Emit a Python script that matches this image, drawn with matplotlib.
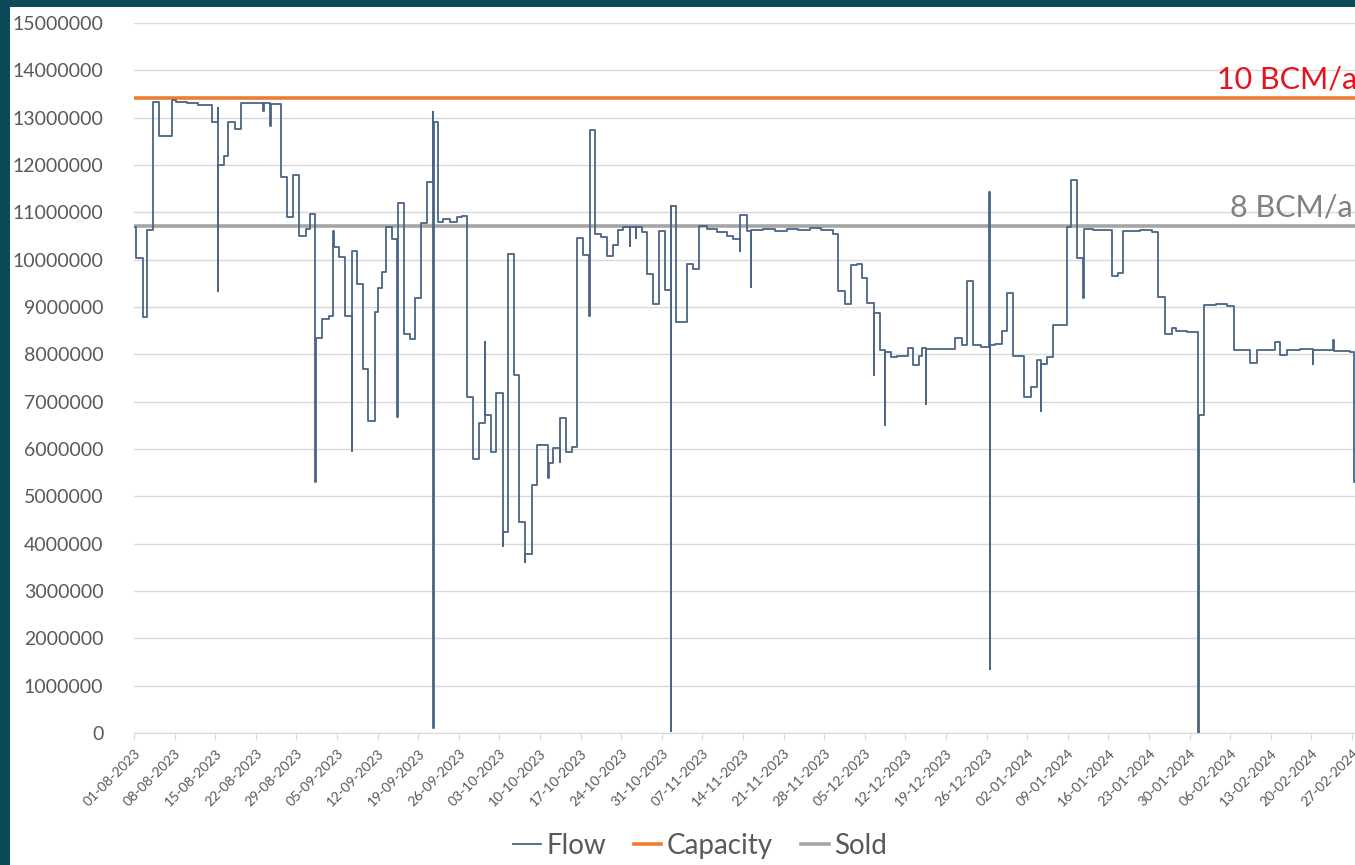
import numpy as np
import matplotlib
matplotlib.use("Agg")
import matplotlib.pyplot as plt
import matplotlib.dates as mdates
from matplotlib.patches import Rectangle
from matplotlib.lines import Line2D
import datetime as dt

plt.rcParams['font.family'] = ['Lato', 'DejaVu Sans']

# flow: days since 01-08-2023 where the value changes, and the new value (million units)
flow_day = [0.0, 0.34, 1.49, 2.30, 3.22, 4.37, 6.49, 7.2, 9.2, 11.0, 13.39,
            14.42, 14.46, 14.5, 15.52, 16.26, 17.47, 18.45, 22.3, 22.35, 23.45, 23.55,
            25.29, 26.32, 27.47, 28.51, 29.66, 30.34, 31.26, 31.3, 32.47, 33.68,
            34.25, 34.45, 35.4, 36.38, 37.5, 37.55, 38.51, 39.43, 40.4, 41.55,
            42.1, 42.7, 43.45, 44.43, 45.4, 45.45, 46.55, 47.59, 48.45, 49.43,
            50.46, 51.55, 51.6, 51.65, 52.36, 53.33, 54.48, 55.63, 56.49, 57.36,
            58.5, 59.54, 60.5, 60.55, 61.49, 62.41, 63.56, 63.6, 64.54, 65.52,
            66.44, 67.41, 67.45, 68.56, 69.54, 71.44, 71.5, 72.3, 73.45, 73.5,
            74.48, 75.46, 76.44, 77.36, 78.51, 78.56, 79.48, 80.46, 81.49, 82.53,
            83.51, 84.37, 85.52, 85.56, 86.55, 86.6, 87.53, 88.39, 89.43, 90.57,
            91.55, 92.53, 92.6, 92.65, 93.45, 95.4, 96.44, 97.47, 98.74, 100.46,
            102.18, 103.33, 104.48, 104.52, 105.63, 106.4, 106.45, 108.5, 110.5,
            112.5, 114.5, 116.5, 118.5, 120.6, 121.44, 122.59, 123.57, 124.6,
            125.46, 126.44, 127.59, 127.64, 128.62, 129.48, 129.53, 130.46, 131.49,
            133.5, 134.37, 135.4, 135.8, 136.55, 136.6, 141.55, 142.7, 143.56,
            144.6, 146.0, 147.47, 147.5, 147.53, 148.45, 149.6, 150.57, 151.61,
            153.45, 154.6, 155.63, 156.38, 156.42, 157.47, 158.51, 160.8, 161.5,
            162.64, 163.67, 163.72, 165.4, 168.56, 169.71, 170.57, 173.5, 175.5,
            176.6, 177.76, 178.9, 179.66, 181.5, 183.5, 183.55, 184.5, 186.5,
            188.5, 189.66, 192.4, 193.56, 196.72, 197.6, 198.74, 201.0, 203.3,
            203.35, 205.5, 206.8, 206.85, 209.6, 210.3, 213.0]
flow_val = [10.70, 10.03, 8.78, 10.63, 13.33, 12.62, 13.37, 13.33, 13.30, 13.27, 12.90,
            13.20, 9.33, 12.00, 12.18, 12.90, 12.75, 13.30, 13.15, 13.30, 12.82, 13.28,
            11.74, 10.91, 11.78, 10.50, 10.65, 10.96, 5.30, 8.34, 8.75, 8.80,
            10.60, 10.26, 10.05, 8.82, 5.96, 10.19, 9.48, 7.70, 6.60, 8.90,
            9.40, 9.74, 10.68, 10.43, 6.67, 11.20, 8.42, 8.33, 9.20, 10.77,
            11.65, 13.13, 0.10, 12.91, 10.79, 10.86, 10.80, 10.90, 10.92, 7.09,
            5.79, 6.54, 8.27, 6.72, 5.94, 7.18, 3.96, 4.24, 10.12, 7.56,
            4.46, 3.62, 3.78, 5.23, 6.08, 5.38, 5.70, 6.03, 5.72, 6.65,
            5.94, 6.05, 10.45, 10.10, 8.80, 12.73, 10.54, 10.48, 10.08, 10.30,
            10.63, 10.68, 10.28, 10.68, 10.45, 10.68, 10.59, 9.70, 9.06, 10.60,
            9.35, 11.14, 0.05, 11.14, 8.68, 9.90, 9.80, 10.72, 10.65, 10.59,
            10.50, 10.43, 10.19, 10.95, 10.60, 9.42, 10.62, 10.64, 10.60,
            10.64, 10.62, 10.66, 10.62, 10.55, 9.33, 9.06, 9.88, 9.90,
            9.62, 9.09, 7.56, 8.88, 8.09, 6.50, 8.04, 7.94, 7.96,
            8.13, 7.78, 7.96, 8.13, 6.96, 8.12, 8.35, 8.20, 9.55,
            8.20, 8.16, 11.42, 1.36, 8.20, 8.22, 8.50, 9.30, 7.96,
            7.09, 7.32, 7.88, 6.80, 7.80, 7.95, 8.62, 10.68, 11.68,
            10.04, 9.18, 10.65, 10.62, 9.65, 9.72, 10.60, 10.62, 10.58,
            9.21, 8.44, 8.55, 8.50, 8.47, 0.00, 6.72, 9.04, 9.06,
            9.02, 8.09, 7.82, 8.09, 8.27, 7.98, 8.09, 8.12, 7.80,
            8.09, 8.10, 8.30, 8.08, 8.05, 5.30, 5.30]
capacity = 13.42e6
sold = 10.72e6

start = dt.date(2023, 8, 1)
tick_dates = [start + dt.timedelta(days=7 * i) for i in range(31)]
yticks = np.arange(0, 15000001, 1000000)

W, H = 1355, 865
fig = plt.figure(figsize=(W / 100, H / 100), dpi=100)
fig.patch.set_facecolor('#0b4a58')
fig.add_artist(Rectangle((10 / W, 0), 1, (H - 7) / H, transform=fig.transFigure,
                         facecolor='white', edgecolor='none', zorder=-1))

ax = fig.add_axes([134 / W, 132 / H, (134 + 213 * 5.8) / W - 134 / W, 710 / H])
ax.set_facecolor('white')

x0 = mdates.date2num(start)
fx = x0 + np.array(flow_day)
fy = np.array(flow_val) * 1e6
ax.step(fx, fy, where='post', color='#4b6585', lw=1.3, zorder=4)
ax.axhline(capacity, color='#ED7D31', lw=2.6, zorder=3)
ax.axhline(sold, color='#A5A5A5', lw=2.6, zorder=3)

ax.set_xlim(x0, x0 + 213)
ax.set_ylim(0, 15000000)
ax.set_yticks(yticks)
ax.set_yticklabels([str(v) for v in yticks])
ax.set_xticks([mdates.date2num(d) for d in tick_dates])
ax.set_xticklabels([d.strftime('%d-%m-%Y') for d in tick_dates], rotation=45,
                   ha='right', rotation_mode='anchor')
ax.grid(axis='y', color='#d9d9d9', lw=1)
ax.set_axisbelow(True)
for s in ['top', 'right', 'left']:
    ax.spines[s].set_visible(False)
ax.spines['bottom'].set_color('#d9d9d9')
ax.tick_params(axis='y', length=0, pad=22, labelsize=14, labelcolor='#595959')
ax.tick_params(axis='x', length=5, color='#d9d9d9', pad=5, labelsize=10,
               labelcolor='#595959')

fig.text(1217 / W, 1 - 88 / H, '10 BCM/a', color='#e3141c', fontsize=22, va='baseline')
fig.text(1230 / W, 1 - 217 / H, '8 BCM/a', color='#808080', fontsize=22, va='baseline')

handles = [Line2D([], [], color='#4b6585', lw=1.3),
           Line2D([], [], color='#ED7D31', lw=2.6),
           Line2D([], [], color='#A5A5A5', lw=2.6)]
fig.legend(handles, ['Flow', 'Capacity', 'Sold'], loc='center', ncol=3,
           bbox_to_anchor=(700 / W, 1 - 846 / H), frameon=False, fontsize=20,
           labelcolor='#595959', handlelength=1.0, handletextpad=0.2,
           columnspacing=1.0)

fig.savefig('out.png', dpi=100)
